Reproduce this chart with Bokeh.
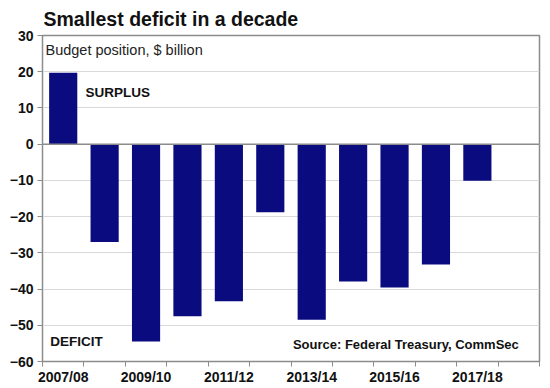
from bokeh.plotting import figure
from bokeh.models import Range1d, FixedTicker, Label, Span
from bokeh.embed import file_html
from bokeh.resources import INLINE

# ---- data ----
years = ["2007/08", "2008/09", "2009/10", "2010/11", "2011/12", "2012/13",
         "2013/14", "2014/15", "2015/16", "2016/17", "2017/18", "2018/19"]
balance = [19.7, -27.0, -54.5, -47.5, -43.4, -18.8, -48.5, -37.9, -39.6, -33.2, -10.1]
y_ticks = [-60, -50, -40, -30, -20, -10, 0, 10, 20, 30]
labelled_years = ["2007/08", "2009/10", "2011/12", "2013/14", "2015/16", "2017/18"]
title_text = "Smallest deficit in a decade"

BAR = "#0b0b80"
GRID = "#d9d9d9"
FRAME = "#8c8c8c"
TXT = "#111111"
FONT = "Liberation Sans"

xs = list(range(len(balance)))
label_pos = [years.index(y) for y in labelled_years]
boundaries = [i - 0.5 for i in range(len(years) + 1)]

p = figure(width=550, height=388, output_backend="svg", toolbar_location=None,
           x_range=Range1d(-0.5, len(years) - 0.5), y_range=Range1d(y_ticks[0], y_ticks[-1]),
           min_border_left=42, min_border_right=11, min_border_top=0, min_border_bottom=27)

p.title.text = title_text
p.title.text_font = FONT
p.title.text_font_size = "19.5px"
p.title.text_font_style = "bold"
p.title.text_color = TXT
p.title.align = "left"
p.title.offset = 1
p.title.standoff = 11

p.vbar(x=xs, top=balance, bottom=0, width=0.68, fill_color=BAR, line_color=None)
p.add_layout(Span(location=0, dimension="width", line_color=FRAME, line_width=1.5))

# x axis: tick marks at category boundaries, labels under every other bar
xa = p.xaxis[0]
xa.ticker = FixedTicker(ticks=label_pos, minor_ticks=boundaries)
xa.major_label_overrides = {i: years[i] for i in label_pos}
xa.major_tick_out = 0
xa.major_tick_in = 0
xa.minor_tick_out = 5
xa.minor_tick_in = 0
xa.minor_tick_line_color = FRAME
xa.axis_line_color = FRAME
xa.major_label_standoff = 2
xa.axis_label_standoff = 0
xa.major_label_text_font = FONT
xa.major_label_text_font_size = "14px"
xa.major_label_text_font_style = "bold"
xa.major_label_text_color = TXT

# y axis
ya = p.yaxis[0]
ya.ticker = FixedTicker(ticks=y_ticks)
ya.major_tick_out = 5
ya.major_tick_in = 0
ya.minor_tick_out = 0
ya.minor_tick_in = 0
ya.major_tick_line_color = FRAME
ya.axis_line_color = FRAME
ya.major_label_standoff = 4
ya.axis_label_standoff = 0
ya.major_label_text_font = FONT
ya.major_label_text_font_size = "14px"
ya.major_label_text_font_style = "bold"
ya.major_label_text_color = TXT

p.xgrid.grid_line_color = None
p.ygrid.ticker = FixedTicker(ticks=y_ticks)
p.ygrid.grid_line_color = GRID
p.ygrid.grid_line_width = 1

p.outline_line_color = FRAME
p.outline_line_width = 1.5

p.add_layout(Label(x=-0.5, y=y_ticks[-1], x_offset=3, y_offset=-6, text="Budget position, $ billion",
                   text_baseline="top", text_font=FONT, text_font_size="14.5px", text_color="#222222"))
p.add_layout(Label(x=0.54, y=14.4, text="SURPLUS", text_baseline="middle",
                   text_font=FONT, text_font_size="13.5px", text_font_style="bold", text_color=TXT))
p.add_layout(Label(x=-0.31, y=-54.5, text="DEFICIT", text_baseline="middle",
                   text_font=FONT, text_font_size="13.5px", text_font_style="bold", text_color=TXT))
p.add_layout(Label(x=11.0, y=-55.3, text="Source: Federal Treasury, CommSec", text_baseline="middle",
                   text_align="right", text_font=FONT, text_font_size="13px", text_font_style="bold",
                   text_color=TXT))

open("out.html", "w").write(file_html(p, INLINE))
